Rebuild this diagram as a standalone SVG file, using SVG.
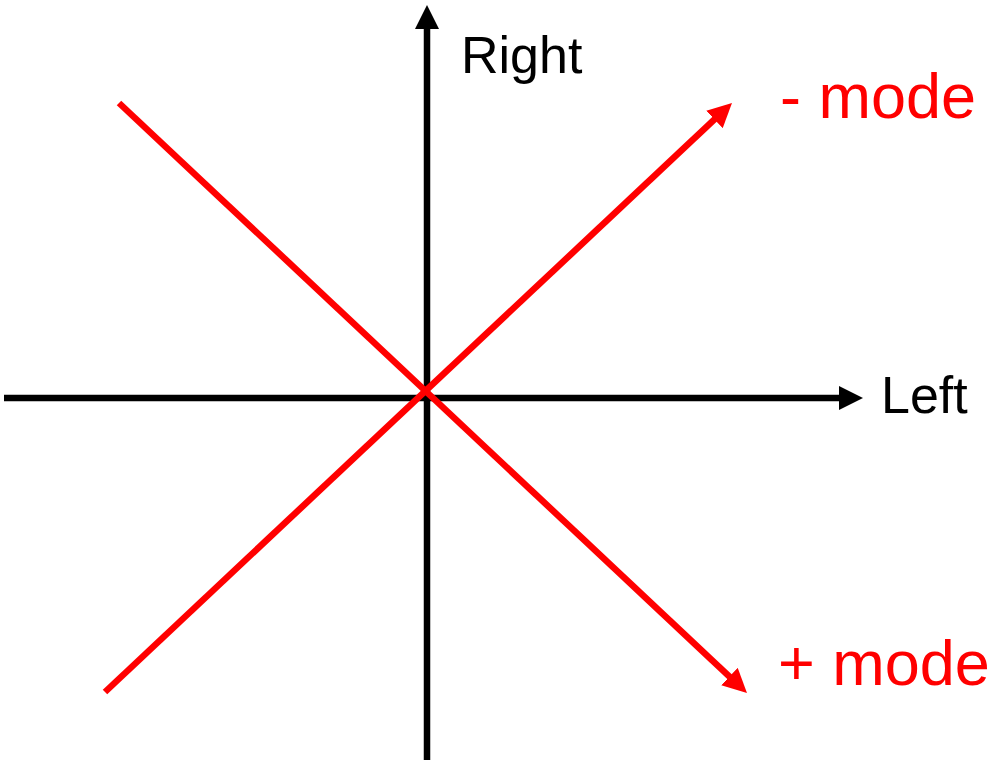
<svg xmlns="http://www.w3.org/2000/svg" width="996" height="760" viewBox="0 0 996 760">
<defs>
<style>
.axis{stroke:#000;stroke-width:6.5;fill:none}
.mode{stroke:#ff0000;stroke-width:6.5;fill:none}
.lbl{font-family:"Liberation Sans",Arial,sans-serif;fill:#000;font-size:52px}
.mlbl{font-family:"Liberation Sans",Arial,sans-serif;fill:#ff0000;font-size:63px}
</style>
<marker id="ahk" markerUnits="userSpaceOnUse" markerWidth="24" markerHeight="24" refX="4" refY="12" orient="auto">
<path d="M0,0 L24,12 L0,24 z" fill="#000"/>
</marker>
<marker id="ahr" markerUnits="userSpaceOnUse" markerWidth="24" markerHeight="24" refX="4" refY="12" orient="auto">
<path d="M0,0 L24,12 L0,24 z" fill="#ff0000"/>
</marker>
</defs>
<rect width="996" height="760" fill="#fff"/>
<g id="connectors">
<line class="axis" x1="427" y1="760" x2="427" y2="25" marker-end="url(#ahk)"/>
<line class="axis" x1="4" y1="398" x2="843" y2="398" marker-end="url(#ahk)"/>
<line class="mode" x1="105" y1="692" x2="717.4" y2="116.7" marker-end="url(#ahr)"/>
<line class="mode" x1="119" y1="103" x2="732.4" y2="679.3" marker-end="url(#ahr)"/>
</g>
<g id="right"><text class="lbl" x="461" y="73">Right</text></g>
<g id="left"><text class="lbl" x="881" y="413">Left</text></g>
<g id="minus-mode"><text class="mlbl" x="780" y="118">- mode</text></g>
<g id="plus-mode"><text class="mlbl" x="778" y="685">+ mode</text></g>
</svg>
